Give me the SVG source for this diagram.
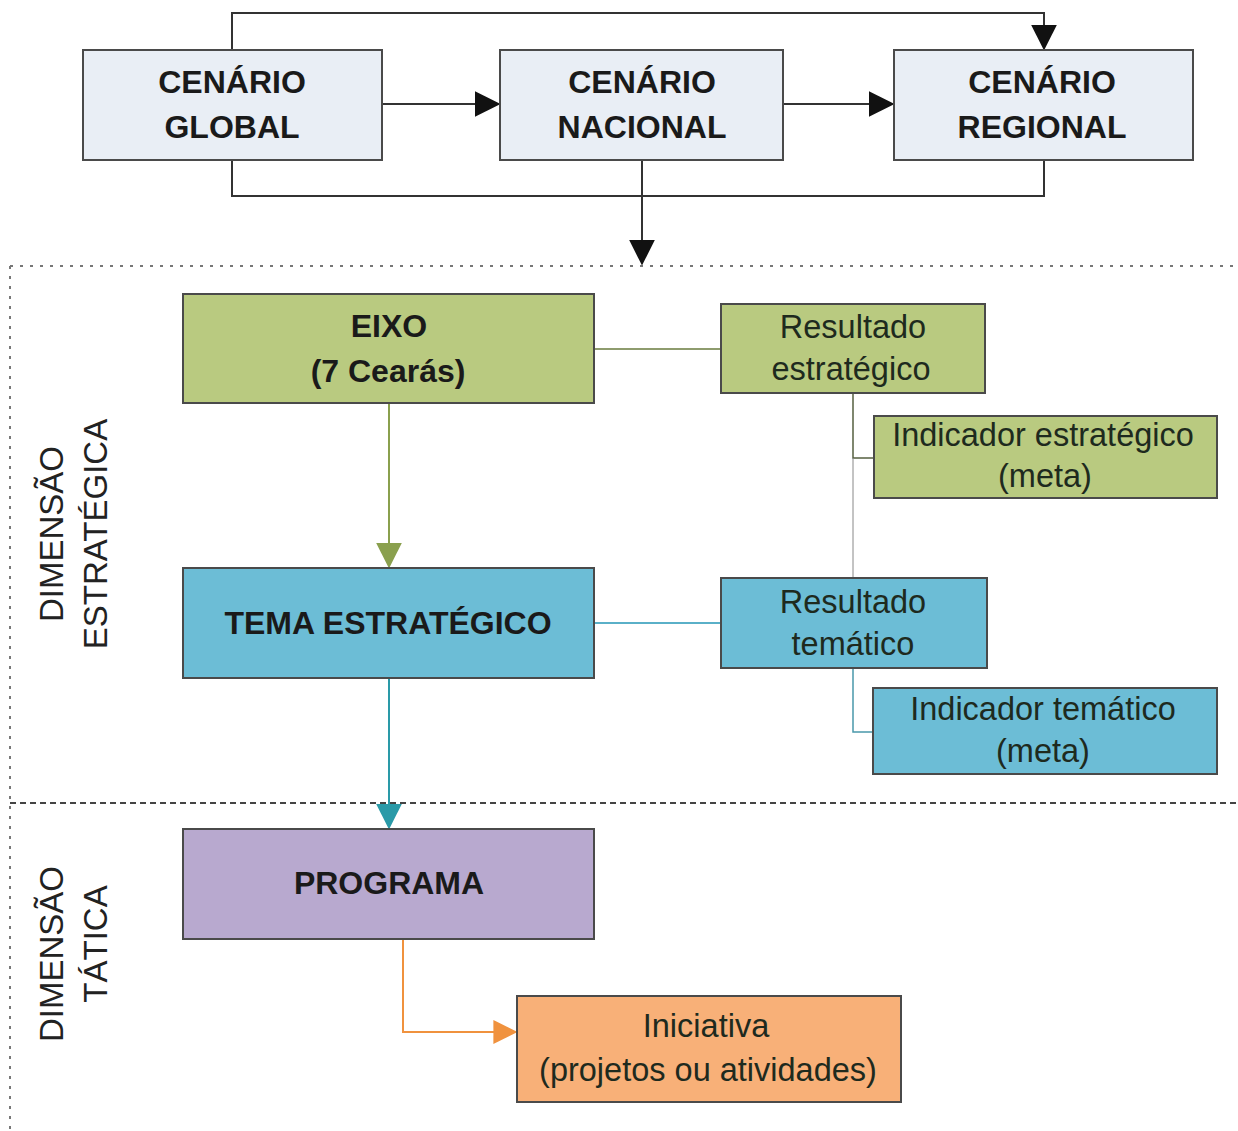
<svg xmlns="http://www.w3.org/2000/svg" width="1238" height="1131" viewBox="0 0 1238 1131">
<style>
  .box { stroke: #4a4a4a; stroke-width: 2; }
  .cen { fill: #e9eef5; }
  .grn { fill: #b9ca80; }
  .blu { fill: #6cbdd6; }
  .pur { fill: #b8a9cf; }
  .org { fill: #f8b078; }
  .tb { font-family: "Liberation Sans", Arial, sans-serif; font-weight: bold; font-size: 32px; fill: #1a1a1a; text-anchor: middle; }
  .tr { font-family: "Liberation Sans", Arial, sans-serif; font-size: 32.5px; fill: #1e2a1e; text-anchor: middle; }
  .side { font-family: "Liberation Sans", Arial, sans-serif; font-size: 33px; fill: #222; text-anchor: middle; }
  .k { fill: none; stroke: #333; stroke-width: 2; }
</style>
<defs>
  <marker id="ag" viewBox="0 0 10 10" refX="9" refY="5" markerWidth="26" markerHeight="26" orient="auto" markerUnits="userSpaceOnUse">
    <path d="M0,0 L10,5 L0,10 Z" fill="#8aa04e"/>
  </marker>
  <marker id="ab" viewBox="0 0 10 10" refX="9" refY="5" markerWidth="26" markerHeight="26" orient="auto" markerUnits="userSpaceOnUse">
    <path d="M0,0 L10,5 L0,10 Z" fill="#2a9aa8"/>
  </marker>
  <marker id="ao" viewBox="0 0 10 10" refX="9" refY="5" markerWidth="24" markerHeight="24" orient="auto" markerUnits="userSpaceOnUse">
    <path d="M0,0 L10,5 L0,10 Z" fill="#f0923e"/>
  </marker>
  <marker id="abk" viewBox="0 0 10 10" refX="9" refY="5" markerWidth="26" markerHeight="26" orient="auto" markerUnits="userSpaceOnUse">
    <path d="M0,0 L10,5 L0,10 Z" fill="#111"/>
  </marker>
</defs>
<rect width="1238" height="1131" fill="#ffffff"/>

<g id="frames">
  <line x1="10" y1="266" x2="1238" y2="266" stroke="#777" stroke-width="2" stroke-dasharray="3 7"/>
  <line x1="10" y1="266" x2="10" y2="1131" stroke="#777" stroke-width="2" stroke-dasharray="3 7"/>
  <line x1="10" y1="803" x2="1238" y2="803" stroke="#444" stroke-width="2" stroke-dasharray="6 4"/>
</g>

<g id="connectors">
  <path class="k" d="M232,50 V13 H1044 V48" marker-end="url(#abk)"/>
  <path class="k" d="M382,104 H498" marker-end="url(#abk)"/>
  <path class="k" d="M783,104 H892" marker-end="url(#abk)"/>
  <path class="k" d="M232,160 V196 H1044 V160"/>
  <path class="k" d="M642,160 V263" marker-end="url(#abk)"/>
  <path d="M389,403 V566" fill="none" stroke="#8aa04e" stroke-width="2" marker-end="url(#ag)"/>
  <path d="M594,349 H721" fill="none" stroke="#8e9c6e" stroke-width="2"/>
  <path d="M853,393 V458 H874" fill="none" stroke="#556040" stroke-width="1.5"/>
  <path d="M853,458 V578" fill="none" stroke="#888" stroke-width="1"/>
  <path d="M594,623 H721" fill="none" stroke="#5ab0c8" stroke-width="2"/>
  <path d="M853,668 V732 H873" fill="none" stroke="#4a98aa" stroke-width="1.5"/>
  <path d="M389,678 V827" fill="none" stroke="#2a9aa8" stroke-width="2" marker-end="url(#ab)"/>
  <path d="M403,939 V1032 H515" fill="none" stroke="#f0923e" stroke-width="2" marker-end="url(#ao)"/>
</g>

<g id="cenario-global">
  <rect class="box cen" x="83" y="50" width="299" height="110"/>
  <text class="tb" x="232" y="93">CENÁRIO</text>
  <text class="tb" x="232" y="138">GLOBAL</text>
</g>
<g id="cenario-nacional">
  <rect class="box cen" x="500" y="50" width="283" height="110"/>
  <text class="tb" x="642" y="93">CENÁRIO</text>
  <text class="tb" x="642" y="138">NACIONAL</text>
</g>
<g id="cenario-regional">
  <rect class="box cen" x="894" y="50" width="299" height="110"/>
  <text class="tb" x="1042" y="93">CENÁRIO</text>
  <text class="tb" x="1042" y="138">REGIONAL</text>
</g>

<g id="label-estrategica">
  <text class="side" transform="translate(63,534) rotate(-90)">DIMENSÃO</text>
  <text class="side" transform="translate(107,534) rotate(-90)">ESTRATÉGICA</text>
</g>
<g id="label-tatica">
  <text class="side" transform="translate(63,954) rotate(-90)">DIMENSÃO</text>
  <text class="side" transform="translate(107,944) rotate(-90)">TÁTICA</text>
</g>

<g id="eixo">
  <rect class="box grn" x="183" y="294" width="411" height="109"/>
  <text class="tb" x="389" y="337">EIXO</text>
  <text class="tb" x="388" y="382">(7 Cearás)</text>
</g>
<g id="resultado-estrategico">
  <rect class="box grn" x="721" y="304" width="264" height="89"/>
  <text class="tr" x="853" y="338">Resultado</text>
  <text class="tr" x="851" y="380">estratégico</text>
</g>
<g id="indicador-estrategico">
  <rect class="box grn" x="874" y="416" width="343" height="82"/>
  <text class="tr" x="1043" y="446">Indicador estratégico</text>
  <text class="tr" x="1045" y="487">(meta)</text>
</g>
<g id="tema-estrategico">
  <rect class="box blu" x="183" y="568" width="411" height="110"/>
  <text class="tb" x="388" y="634">TEMA ESTRATÉGICO</text>
</g>
<g id="resultado-tematico">
  <rect class="box blu" x="721" y="578" width="266" height="90"/>
  <text class="tr" x="853" y="613">Resultado</text>
  <text class="tr" x="853" y="655">temático</text>
</g>
<g id="indicador-tematico">
  <rect class="box blu" x="873" y="688" width="344" height="86"/>
  <text class="tr" x="1043" y="720">Indicador temático</text>
  <text class="tr" x="1043" y="762">(meta)</text>
</g>
<g id="programa">
  <rect class="box pur" x="183" y="829" width="411" height="110"/>
  <text class="tb" x="389" y="894">PROGRAMA</text>
</g>
<g id="iniciativa">
  <rect class="box org" x="517" y="996" width="384" height="106"/>
  <text class="tr" x="706" y="1037">Iniciativa</text>
  <text class="tr" x="708" y="1081">(projetos ou atividades)</text>
</g>
</svg>
